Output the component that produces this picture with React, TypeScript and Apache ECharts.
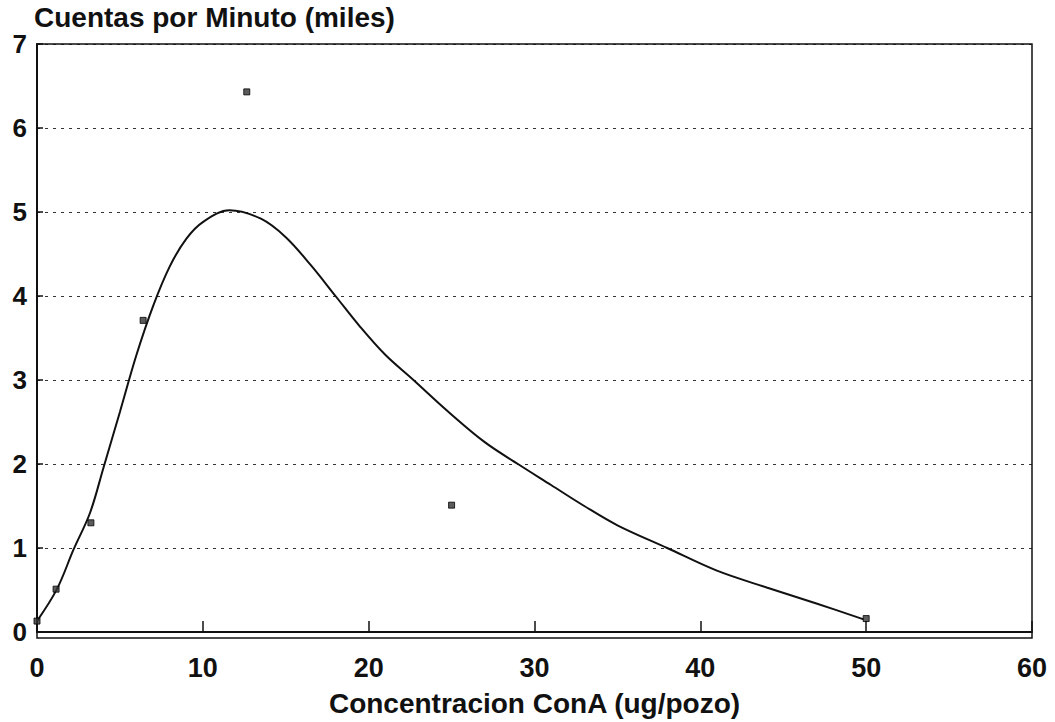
import React, { useEffect, useRef } from "react";
import * as echarts from "echarts";

const pointX = [0, 1.15, 3.25, 6.4, 12.65, 25, 50];
const pointY = [0.13, 0.51, 1.3, 3.71, 6.43, 1.51, 0.16];

const curveX = [0, 1.2, 2.2, 3.2, 4.0, 5.0, 6.0, 7.0, 8.0, 9.0, 10.0, 11.6, 13.5, 15.0, 16.5, 18.0, 19.5, 21.0, 22.7, 24.7, 27.0, 29.0, 31.0, 33.0, 35.0, 38.0, 41.0, 44.0, 47.0, 49.85];
const curveY = [0.13, 0.51, 0.98, 1.42, 1.95, 2.62, 3.3, 3.88, 4.35, 4.68, 4.88, 5.02, 4.92, 4.7, 4.37, 4.0, 3.63, 3.3, 3.0, 2.64, 2.26, 2.0, 1.75, 1.5, 1.27, 1.0, 0.73, 0.53, 0.34, 0.15];

const xTicks = [0, 10, 20, 30, 40, 50, 60];
const yTicks = [0, 1, 2, 3, 4, 5, 6, 7];

const yTitle = "Cuentas por Minuto (miles)";
const xTitle = "Concentracion ConA (ug/pozo)";

export default function App() {
  const ref = useRef<HTMLDivElement>(null);
  useEffect(() => {
    if (!ref.current) return;
    const chart = echarts.init(ref.current, null, { renderer: "svg" });
    const font = "'Liberation Sans', Arial, Helvetica, sans-serif";
    chart.setOption({
      animation: false,
      backgroundColor: "#fff",
      grid: { left: 37, right: 23, top: 44, bottom: 84, containLabel: false },
      title: {
        text: yTitle,
        left: 34,
        top: 3,
        padding: 0,
        textStyle: { fontFamily: font, fontWeight: "bold", fontSize: 28, color: "#111" },
      },
      xAxis: {
        type: "value",
        min: xTicks[0],
        max: xTicks[xTicks.length - 1],
        interval: 10,
        name: xTitle,
        nameLocation: "middle",
        nameGap: 57,
        nameTextStyle: { fontFamily: font, fontWeight: "bold", fontSize: 28, color: "#111" },
        axisLine: { show: true, lineStyle: { color: "#111", width: 2 } },
        axisTick: { show: true, inside: true, length: 11, lineStyle: { color: "#111", width: 1.5 } },
        axisLabel: { fontFamily: font, fontWeight: "bold", fontSize: 27, color: "#111", margin: 22 },
        splitLine: { show: false },
      },
      yAxis: {
        type: "value",
        min: yTicks[0],
        max: yTicks[yTicks.length - 1],
        interval: 1,
        axisLine: { show: true, lineStyle: { color: "#111", width: 2 } },
        axisTick: { show: true, inside: true, length: 6, lineStyle: { color: "#111", width: 1.5 } },
        axisLabel: { fontFamily: font, fontWeight: "bold", fontSize: 26, color: "#111", margin: 10 },
        splitLine: { show: true, lineStyle: { color: "#333", type: [3, 5], width: 1 } },
      },
      series: [
        {
          type: "line",
          data: curveX.map((x, i) => [x, curveY[i]]),
          smooth: 0.35,
          showSymbol: false,
          lineStyle: { color: "#111", width: 2 },
          z: 2,
        },
        {
          type: "scatter",
          data: pointX.map((x, i) => [x, pointY[i]]),
          symbol: "rect",
          symbolSize: 6,
          itemStyle: { color: "#333", borderColor: "#000", borderWidth: 1 },
          z: 3,
        },
      ],
      graphic: [
        {
          type: "rect",
          shape: { x: 37, y: 44, width: 995, height: 594 },
          style: { fill: "none", stroke: "#111", lineWidth: 1.5 },
          silent: true,
          z: 1,
        },
      ],
    });
    return () => chart.dispose();
  }, []);
  return <div ref={ref} style={{ position: "absolute", left: 0, top: 0, width: 1055, height: 722 }} />;
}
